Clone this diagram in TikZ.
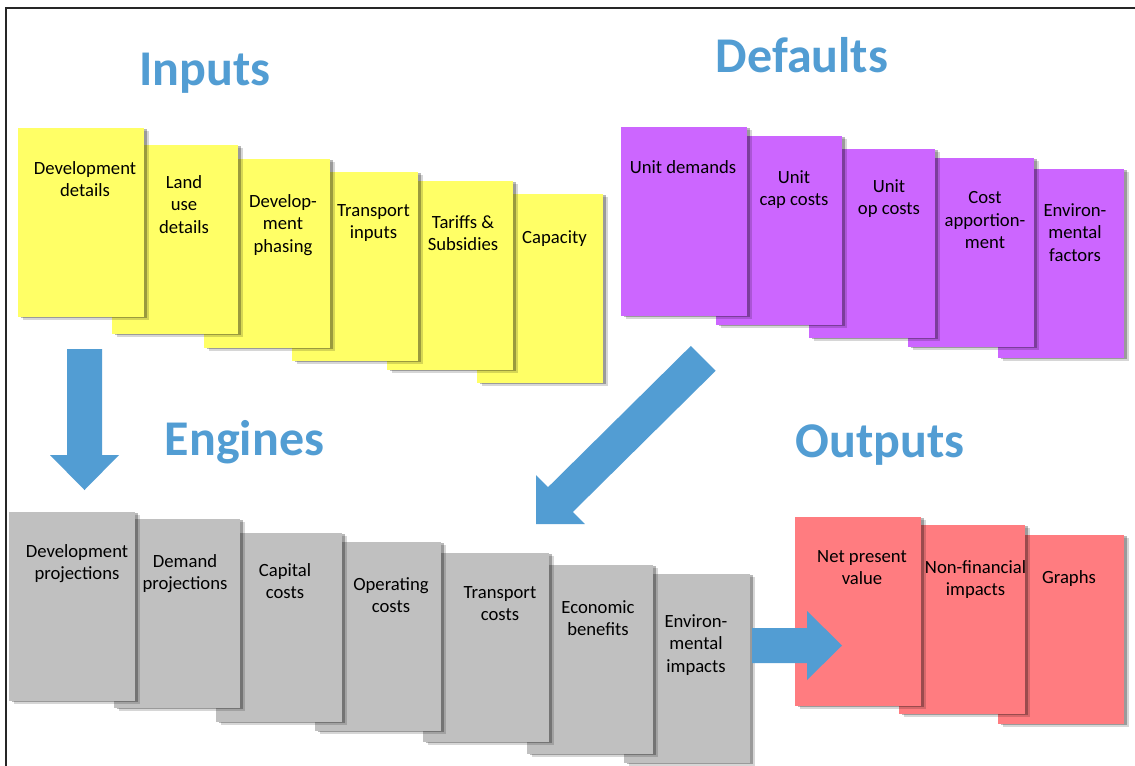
\documentclass[tikz,border=0pt]{standalone}
\usepackage{fontspec}
\setmainfont{Carlito}
\usetikzlibrary{shadows}
\definecolor{cyel}{RGB}{255,255,102}
\definecolor{cpur}{RGB}{204,102,255}
\definecolor{cgry}{RGB}{192,192,192}
\definecolor{cred}{RGB}{255,124,128}
\definecolor{cblue}{RGB}{82,157,211}
\begin{document}
\begin{tikzpicture}[x=0.75pt,y=-0.75pt,
  card/.style={anchor=north west, minimum width=94.5pt, minimum height=141.75pt,
    inner sep=0pt, outer sep=0pt, draw=none,
    drop shadow={shadow xshift=3.6pt, shadow yshift=-2.2pt, fill=black, opacity=0.16},
    drop shadow={shadow xshift=2pt, shadow yshift=-1pt, fill=black, opacity=0.28}},
  yelcard/.style={card, fill=cyel},
  purcard/.style={card, fill=cpur},
  grycard/.style={card, fill=cgry},
  redcard/.style={card, fill=cred},
  ctext/.style={font=\fontsize{14}{17}\selectfont, align=center, anchor=north,
    inner sep=0pt, execute at begin node=\strut},
  mtext/.style={ctext, yshift=-2.3pt},
  title/.style={font=\fontsize{37.5}{45}\selectfont\bfseries, text=cblue, anchor=base, inner sep=0pt},
  blockarrow/.style={fill=cblue, draw=none}]
\useasboundingbox (0,0) rectangle (1135,765);
\fill[white] (0,0) rectangle (1135,765);
% frame
\draw[line width=1.5pt, black!85] (6.3,800) -- (6.3,8.3) -- (1160,8.3);

% titles
\node[title] (tin) at (205,85) {Inputs};
\node[title] (tdef) at (802,72) {Defaults};
\node[title] (teng) at (244.5,455) {Engines};
\node[title] (tout) at (880,457) {Outputs};

% Inputs (back to front)
\node[yelcard] (i6) at (477,194) {};
\node[yelcard] (i5) at (387,181) {};
\node[yelcard] (i4) at (292,172) {};
\node[yelcard] (i3) at (204,159) {};
\node[yelcard] (i2) at (112,145) {};
\node[yelcard] (i1) at (18,128) {};
\node[mtext] (ti1) at (85,158) {Development\\details};
\node[mtext] (ti2) at (184,172) {Land\\use\\details};
\node[mtext] (ti3) at (283,191) {Develop-\\ment\\phasing};
\node[mtext] (ti4) at (373.5,201) {Transport\\inputs};
\node[mtext] (ti5) at (463,212) {Tariffs \&\\Subsidies};
\node[ctext] (ti6) at (554.5,227) {Capacity};

% Defaults
\node[purcard] (d5) at (998,169) {};
\node[purcard] (d4) at (908,158) {};
\node[purcard] (d3) at (809,149) {};
\node[purcard] (d2) at (716,136) {};
\node[purcard] (d1) at (621,127) {};
\node[ctext] (td1) at (683,157) {Unit demands};
\node[mtext] (td2) at (794,167) {Unit\\cap costs};
\node[mtext] (td3) at (889,176) {Unit\\op costs};
\node[mtext] (td4) at (985,188) {Cost\\apportion-\\ment};
\node[mtext] (td5) at (1075,200) {Environ-\\mental\\factors};

% Engines
\node[grycard] (e7) at (624,574) {};
\node[grycard] (e6) at (527,565) {};
\node[grycard] (e5) at (423,553) {};
\node[grycard] (e4) at (315,542) {};
\node[grycard] (e3) at (216,533) {};
\node[grycard] (e2) at (114,519) {};
\node[grycard] (e1) at (9,512) {};
\node[mtext] (te1) at (77,541) {Development\\projections};
\node[mtext] (te2) at (185,551) {Demand\\projections};
\node[mtext] (te3) at (285,560) {Capital\\costs};
\node[mtext] (te4) at (391,574) {Operating\\costs};
\node[mtext] (te5) at (500,583) {Transport\\costs};
\node[mtext] (te6) at (598,597) {Economic\\benefits};
\node[mtext] (te7) at (696,611) {Environ-\\mental\\impacts};

% Outputs
\node[redcard] (o3) at (998,535) {};
\node[redcard] (o2) at (899,525) {};
\node[redcard] (o1) at (795,517) {};
\node[mtext] (to1) at (862,547) {Net present\\value};
\node[mtext] (to2) at (975.5,557) {Non-financial\\impacts};
\node[ctext] (to3) at (1069,567) {Graphs};

% block arrows
\fill[blockarrow] (67,349) -- (102,349) -- (102,455) -- (119,455) -- (84.5,490) -- (50,455) -- (67,455) -- cycle;
\fill[blockarrow] (690.9,345.9) -- (715.7,370.7) -- (572.8,512.0) -- (584.8,524.0) -- (536,524) -- (536,475.2) -- (548,487.2) -- cycle;
\fill[blockarrow] (752,628) -- (807,628) -- (807,611) -- (842,645.5) -- (807,680) -- (807,663) -- (752,663) -- cycle;
\end{tikzpicture}
\end{document}
